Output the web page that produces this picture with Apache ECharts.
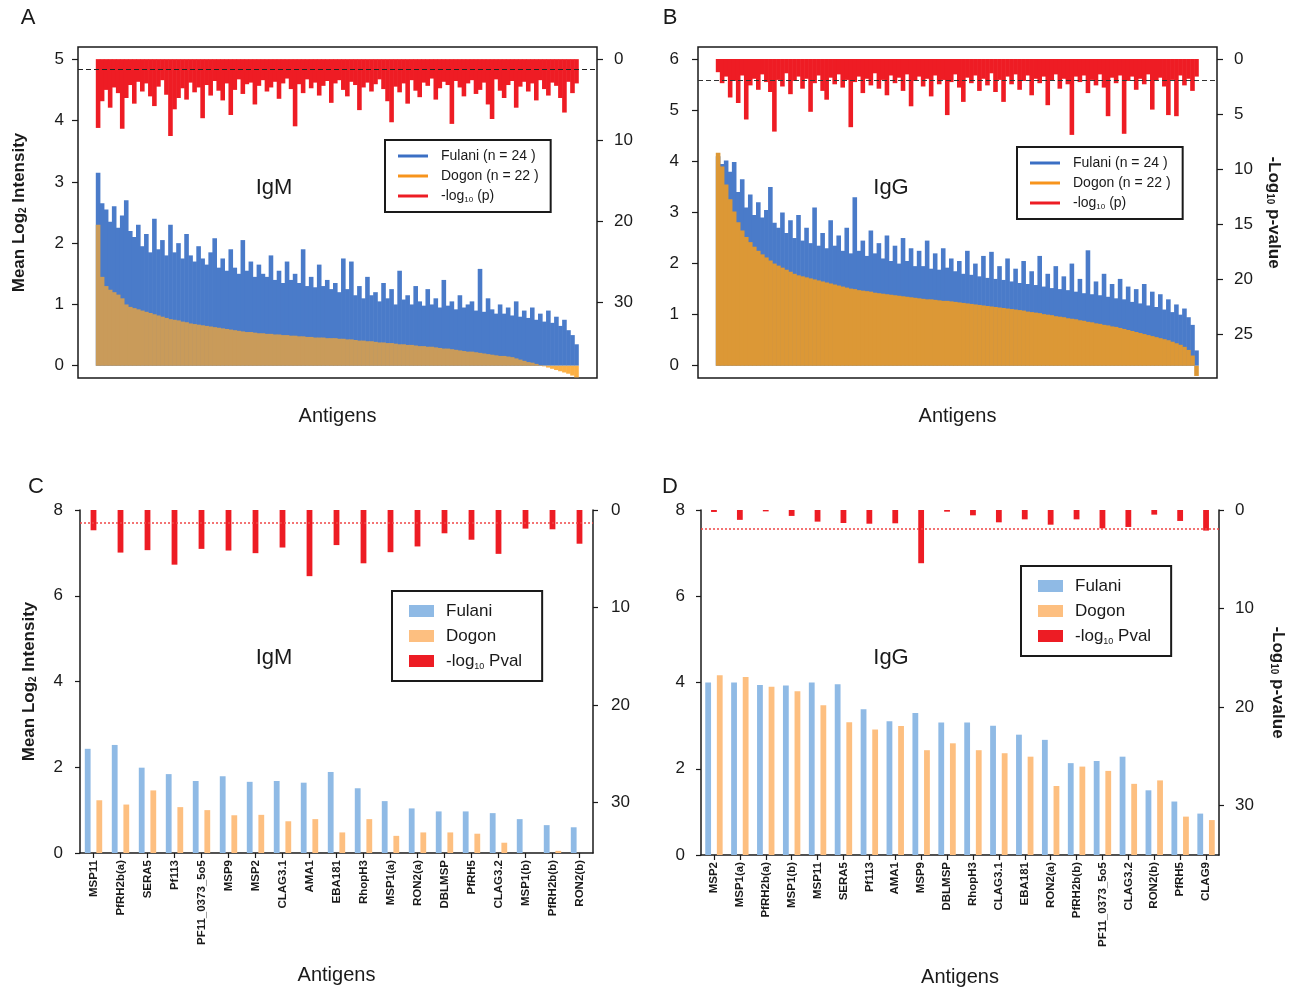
<!DOCTYPE html>
<html>
<head>
<meta charset="utf-8">
<script src="https://cdn.jsdelivr.net/npm/echarts@6.0.0/dist/echarts.min.js"></script>
<style>
  html, body { margin: 0; padding: 0; background: #fff; }
  #main { width: 1295px; height: 991px; }
</style>
</head>
<body>
<div id="main"></div>
<script>
// ---- panel A (IgM, all antigens, sorted by Dogon mean) ----
const fulaniA = [
  3.15, 2.65, 2.55, 2.35, 2.60, 2.25, 2.45, 2.70, 2.20, 2.10,
  2.30, 1.95, 2.15, 1.85, 2.40, 1.90, 2.05, 1.80, 2.30, 1.85,
  2.00, 1.75, 2.15, 1.80, 1.70, 1.95, 1.75, 1.65, 1.85, 2.08,
  1.60, 1.75, 1.55, 1.90, 1.60, 1.50, 2.05, 1.55, 1.70, 1.45,
  1.65, 1.50, 1.45, 1.80, 1.40, 1.55, 1.35, 1.70, 1.40, 1.50,
  1.35, 1.90, 1.30, 1.45, 1.28, 1.65, 1.30, 1.40, 1.25, 1.35,
  1.20, 1.75, 1.25, 1.70, 1.15, 1.30, 1.10, 1.45, 1.15, 1.20,
  1.05, 1.35, 1.10, 1.25, 1.00, 1.55, 1.08, 1.15, 1.00, 1.30,
  1.05, 0.98, 1.25, 1.00, 1.10, 0.95, 1.40, 0.98, 1.05, 0.92,
  1.15, 0.95, 1.00, 1.05, 0.90, 1.58, 0.88, 1.10, 0.92, 0.85,
  1.00, 0.85, 0.95, 0.82, 1.05, 0.80, 0.90, 0.78, 0.95, 0.75,
  0.85, 0.72, 0.90, 0.70, 0.80, 0.65, 0.75, 0.58, 0.50, 0.35
];
const dogonA = [
  2.30, 1.45, 1.30, 1.24, 1.20, 1.16, 1.10, 1.00, 0.96, 0.94,
  0.92, 0.90, 0.88, 0.86, 0.84, 0.82, 0.80, 0.78, 0.76, 0.75,
  0.74, 0.72, 0.71, 0.69, 0.68, 0.67, 0.66, 0.65, 0.64, 0.63,
  0.62, 0.61, 0.60, 0.59, 0.58, 0.57, 0.56, 0.55, 0.55, 0.54,
  0.53, 0.53, 0.52, 0.52, 0.51, 0.51, 0.50, 0.50, 0.49, 0.49,
  0.48, 0.48, 0.47, 0.47, 0.46, 0.46, 0.46, 0.45, 0.45, 0.45,
  0.44, 0.44, 0.43, 0.43, 0.42, 0.41, 0.41, 0.40, 0.40, 0.39,
  0.38, 0.38, 0.37, 0.37, 0.36, 0.35, 0.35, 0.34, 0.34, 0.33,
  0.32, 0.32, 0.31, 0.31, 0.30, 0.29, 0.28, 0.28, 0.27, 0.26,
  0.25, 0.24, 0.23, 0.23, 0.22, 0.21, 0.20, 0.19, 0.18, 0.17,
  0.16, 0.16, 0.15, 0.14, 0.12, 0.10, 0.08, 0.06, 0.05, 0.03,
  0.01, -0.01, -0.03, -0.05, -0.07, -0.09, -0.11, -0.13, -0.16, -0.19
];
const pvalA = [
  8.5, 5.2, 3.8, 6.0, 3.5, 4.2, 8.6, 4.8, 3.2, 5.5,
  2.8, 4.0, 3.0, 4.6, 5.8, 3.4, 2.6, 4.4, 9.5, 6.2,
  4.8, 3.6, 5.0, 2.9, 4.1, 3.5, 7.3, 3.2, 4.5, 2.7,
  3.9, 5.1, 3.0, 6.9, 3.8, 2.5, 4.3, 3.1, 2.9, 5.6,
  3.3, 2.6, 4.0, 3.5, 2.8, 4.9, 3.0, 2.4, 3.7, 8.3,
  3.1, 4.2, 2.5, 3.6, 2.9, 4.5, 3.3, 2.7, 5.4, 3.0,
  2.6, 3.8, 4.6, 2.8, 3.2, 6.3, 3.5, 2.9, 4.0, 3.1,
  2.5, 3.7, 5.2, 7.8, 3.4, 4.1, 3.0, 5.5, 2.6, 3.9,
  4.7, 2.9, 3.3, 2.4, 5.0, 3.6, 2.8, 3.2, 8.0, 2.7,
  3.5, 4.6, 3.0, 2.6, 4.3, 3.8, 2.9, 5.6, 7.4, 2.5,
  3.9, 4.8, 3.2, 2.7, 6.0, 3.4, 2.8, 4.0, 3.0, 5.1,
  2.6, 3.7, 4.5, 2.9, 3.3, 4.8, 6.6, 2.8, 4.2, 3.0
];

// ---- panel B (IgG, all antigens) ----
const fulaniB = [
  4.10, 3.95, 4.02, 3.80, 3.99, 3.40, 3.65, 3.10, 3.35, 2.95,
  3.20, 2.90, 3.05, 3.50, 2.80, 2.70, 3.00, 2.60, 2.85, 2.50,
  2.95, 2.45, 2.70, 2.40, 3.10, 2.35, 2.60, 2.30, 2.85, 2.35,
  2.55, 2.25, 2.70, 2.20, 3.30, 2.25, 2.45, 2.15, 2.65, 2.20,
  2.40, 2.10, 2.55, 2.05, 2.35, 2.00, 2.50, 2.05, 2.30, 1.95,
  2.25, 1.95, 2.45, 1.90, 2.20, 1.88, 2.30, 1.92, 2.10, 1.85,
  2.05, 1.80, 2.25, 1.78, 2.00, 1.75, 2.15, 1.72, 2.23, 1.70,
  1.95, 1.68, 2.10, 1.65, 1.90, 1.62, 2.05, 1.60, 1.85, 1.58,
  2.15, 1.55, 1.80, 1.52, 1.95, 1.50, 1.75, 1.48, 2.00, 1.45,
  1.70, 1.42, 2.26, 1.40, 1.65, 1.38, 1.80, 1.35, 1.60, 1.32,
  1.70, 1.30, 1.55, 1.25, 1.50, 1.22, 1.60, 1.18, 1.45, 1.15,
  1.40, 1.10, 1.30, 1.05, 1.20, 1.00, 1.12, 0.95, 0.80, 0.30
];
const dogonB = [
  4.17, 3.90, 3.55, 3.26, 3.02, 2.81, 2.65, 2.52, 2.42, 2.33,
  2.25, 2.18, 2.12, 2.06, 2.00, 1.96, 1.92, 1.88, 1.84, 1.80,
  1.77, 1.75, 1.73, 1.71, 1.69, 1.67, 1.65, 1.63, 1.61, 1.59,
  1.57, 1.55, 1.53, 1.51, 1.50, 1.48, 1.47, 1.46, 1.45, 1.43,
  1.42, 1.41, 1.40, 1.39, 1.38, 1.37, 1.36, 1.35, 1.34, 1.33,
  1.32, 1.31, 1.30, 1.30, 1.29, 1.28, 1.27, 1.27, 1.26, 1.25,
  1.24, 1.23, 1.22, 1.21, 1.20, 1.19, 1.18, 1.17, 1.16, 1.15,
  1.14, 1.13, 1.12, 1.11, 1.10, 1.09, 1.08, 1.06, 1.05, 1.04,
  1.03, 1.01, 1.00, 0.99, 0.97, 0.96, 0.95, 0.93, 0.92, 0.91,
  0.89, 0.88, 0.86, 0.85, 0.83, 0.82, 0.80, 0.79, 0.77, 0.76,
  0.74, 0.72, 0.70, 0.68, 0.66, 0.64, 0.62, 0.60, 0.58, 0.56,
  0.54, 0.52, 0.50, 0.47, 0.44, 0.41, 0.37, 0.31, 0.20, -0.20
];
const pvalB = [
  1.2, 2.2, 1.6, 3.5, 2.0, 4.0, 1.5, 5.5, 2.4, 1.8,
  2.8, 1.4, 2.1, 3.0, 6.6, 1.9, 2.5, 1.3, 3.2, 2.0,
  1.6, 2.7, 1.8, 4.8, 2.2, 1.5, 2.9, 3.7, 1.7, 2.3,
  1.4, 2.6, 1.9, 6.2, 2.1, 1.6, 3.1, 1.8, 2.4, 1.3,
  2.7, 1.9, 3.3, 1.5, 2.2, 1.7, 2.9, 1.4, 4.3, 2.0,
  1.6, 2.5, 1.8, 3.4, 1.5, 2.3, 1.9, 5.1, 2.1, 1.4,
  2.6, 3.9, 1.7, 2.2, 1.5, 2.9, 1.8, 2.4, 1.3, 3.0,
  1.9, 3.9, 1.6, 2.3, 1.4, 2.8, 2.0, 1.5, 3.3, 1.8,
  2.2, 1.6, 4.2, 2.0, 1.4, 2.7, 1.8, 2.3, 6.9, 1.6,
  2.1, 1.5, 3.1, 1.9, 2.4, 1.4, 2.6, 5.2, 1.7, 2.2,
  1.5, 6.8, 2.0, 1.6, 2.8, 1.8, 2.3, 1.4, 4.6, 2.0,
  1.7, 2.5, 5.1, 1.9, 5.2, 1.5, 2.4, 1.8, 2.9, 1.6
];

// ---- panel C (IgM, selected antigens) ----
const catC = ['MSP11', 'PfRH2b(a)', 'SERA5', 'Pf113', 'PF11_0373_5o5', 'MSP9', 'MSP2', 'CLAG3.1', 'AMA1',
  'EBA181', 'RhopH3', 'MSP1(a)', 'RON2(a)', 'DBLMSP', 'PfRH5', 'CLAG3.2', 'MSP1(b)', 'PfRH2b(b)', 'RON2(b)'];
const fulaniC = [2.43, 2.52, 1.99, 1.84, 1.68, 1.79, 1.66, 1.68, 1.64, 1.89, 1.51, 1.21, 1.04, 0.97, 0.97, 0.93, 0.79, 0.65, 0.60];
const dogonC = [1.23, 1.13, 1.46, 1.07, 1.00, 0.88, 0.89, 0.74, 0.79, 0.48, 0.79, 0.40, 0.48, 0.48, 0.45, 0.24, 0.00, 0.05, 0.00];
const pvalC = [2.08, 4.37, 4.12, 5.61, 3.99, 4.16, 4.43, 3.85, 6.79, 3.60, 5.47, 4.33, 3.74, 2.39, 3.05, 4.50, 1.91, 1.98, 3.46];

// ---- panel D (IgG, selected antigens) ----
const catD = ['MSP2', 'MSP1(a)', 'PfRH2b(a)', 'MSP1(b)', 'MSP11', 'SERA5', 'Pf113', 'AMA1', 'MSP9', 'DBLMSP',
  'RhopH3', 'CLAG3.1', 'EBA181', 'RON2(a)', 'PfRH2b(b)', 'PF11_0373_5o5', 'CLAG3.2', 'RON2(b)', 'PfRH5', 'CLAG9'];
const fulaniD = [4.00, 4.00, 3.94, 3.93, 4.00, 3.96, 3.38, 3.10, 3.29, 3.07, 3.07, 3.00, 2.79, 2.67, 2.13, 2.18, 2.28, 1.50, 1.24, 0.96];
const dogonD = [4.17, 4.13, 3.90, 3.80, 3.47, 3.08, 2.91, 2.99, 2.43, 2.59, 2.43, 2.36, 2.28, 1.60, 2.05, 1.95, 1.65, 1.73, 0.89, 0.81];
const pvalD = [0.20, 1.00, 0.14, 0.60, 1.18, 1.32, 1.39, 1.35, 5.40, 0.17, 0.54, 1.25, 0.95, 1.49, 0.95, 1.86, 1.72, 0.47, 1.11, 2.09];

// tick labels
const ticksA = [0, 1, 2, 3, 4, 5];
const ticksAp = [0, 10, 20, 30];
const ticksB = [0, 1, 2, 3, 4, 5, 6];
const ticksBp = [0, 5, 10, 15, 20, 25];
const ticksCD = [0, 2, 4, 6, 8];
const ticksCDp = [0, 10, 20, 30];

const FONT = '"Liberation Sans", Arial, Helvetica, sans-serif';
const INK = '#1a1a1a';
const FUL_AB = 'Fulani (n = 24 )', DOG_AB = 'Dogon (n = 22 )', P_AB = '-log10 (p)';
const FUL_CD = 'Fulani', DOG_CD = 'Dogon', P_CD = '-log10 Pval';

const pairs = arr => arr.map((v, i) => [i, v]);

const chart = echarts.init(document.getElementById('main'));

function yAxis(g, pos, min, max, ticks, o) {
  o = o || {};
  return {
    type: 'value', gridIndex: g, position: pos, min: min, max: max, inverse: !!o.inverse,
    splitLine: { show: false },
    axisLine: { show: !!o.line, onZero: false, lineStyle: { color: INK, width: 1.5 } },
    axisTick: { show: true, length: o.tick || 6, customValues: ticks, lineStyle: { color: INK, width: 1.2 } },
    axisLabel: { customValues: ticks, fontSize: 17, color: INK, fontFamily: FONT, margin: o.margin || 14 },
    name: o.name || '', nameLocation: 'middle', nameGap: o.gap || 40, nameRotate: o.rot || 0,
    nameTextStyle: {
      fontSize: 17, fontWeight: 'bold', color: INK, fontFamily: FONT,
      rich: { s: { fontSize: 10, fontWeight: 'bold', fontFamily: FONT, color: INK, verticalAlign: 'bottom', lineHeight: 11 } }
    }
  };
}

function xValAxis(g, showName) {
  return {
    type: 'value', gridIndex: g, min: -5, max: 124.1, show: true,
    axisLine: { show: false }, axisTick: { show: false }, axisLabel: { show: false }, splitLine: { show: false },
    name: showName ? 'Antigens' : '', nameLocation: 'middle', nameGap: 28,
    nameTextStyle: { fontSize: 20, color: INK, fontFamily: FONT }
  };
}

function xCatAxis(g, cats) {
  return {
    type: 'category', gridIndex: g, data: cats,
    axisLine: { show: true, onZero: false, lineStyle: { color: INK, width: 1.5 } },
    axisTick: { show: true, alignWithLabel: true, length: 5, lineStyle: { color: INK, width: 1.2 } },
    axisLabel: { interval: 0, rotate: 90, fontSize: 11.5, fontWeight: 'bold', color: INK, fontFamily: FONT, margin: 7 },
    splitLine: { show: false },
    name: 'Antigens', nameLocation: 'middle', nameGap: 112,
    nameTextStyle: { fontSize: 20, color: INK, fontFamily: FONT }
  };
}

function legendFmt(name) {
  if (name === P_AB) return '{g| }-log{s|10} (p)';
  if (name === P_CD) return '{g| }-log{s|10} Pval';
  return '{g| }' + name;
}

function legend(left, top, big, items) {
  return {
    orient: 'vertical', left: left, top: top, selectedMode: false, icon: 'rect',
    borderColor: INK, borderWidth: 2, borderRadius: 0,
    padding: big ? [10, 20, 10, 17] : [8, 12, 8, 13],
    itemGap: big ? 5 : 4, itemWidth: big ? 25 : 30, itemHeight: big ? 12 : 3,
    data: items, formatter: legendFmt,
    textStyle: {
      fontSize: big ? 17 : 14, color: INK, fontFamily: FONT, lineHeight: big ? 20 : 16,
      rich: {
        g: { width: big ? 7 : 8 },
        s: { fontSize: big ? 9 : 8, fontFamily: FONT, color: INK, verticalAlign: 'bottom', lineHeight: big ? 13 : 10 }
      }
    }
  };
}

const dashLine = (v, color, type, width) => ({
  silent: true, symbol: ['none', 'none'], label: { show: false },
  lineStyle: { color: color, type: type, width: width }, data: [{ yAxis: v }]
});

function lineBars(name, xi, yi, data, color, opacity, extra) {
  return Object.assign({
    name: name, type: 'bar', xAxisIndex: xi, yAxisIndex: yi, data: pairs(data),
    barWidth: 4.6, barGap: '-100%', silent: true, emphasis: { disabled: true },
    itemStyle: { color: color, opacity: opacity }
  }, extra || {});
}

function groupBars(name, xi, yi, data, color, extra) {
  return Object.assign({
    name: name, type: 'bar', xAxisIndex: xi, yAxisIndex: yi, data: data,
    barWidth: 5.8, barGap: '0%', silent: true, emphasis: { disabled: true },
    itemStyle: { color: color }
  }, extra || {});
}

const textEl = (x, y, text, size) => ({
  type: 'text', x: x, y: y, silent: true,
  style: { text: text, fontSize: size, fontFamily: FONT, fill: INK, align: 'center', verticalAlign: 'middle' }
});

const option = {
  animation: false,
  backgroundColor: '#fff',
  grid: [
    { left: 78, top: 47, width: 519, height: 331, show: true, borderColor: INK, borderWidth: 1.5, backgroundColor: 'transparent' },
    { left: 698, top: 47, width: 519, height: 331, show: true, borderColor: INK, borderWidth: 1.5, backgroundColor: 'transparent' },
    { left: 80, top: 510, width: 513, height: 343 },
    { left: 701, top: 510, width: 518, height: 345 }
  ],
  xAxis: [
    xValAxis(0, true),
    Object.assign(xValAxis(0, false), { show: false }),
    xValAxis(1, true),
    Object.assign(xValAxis(1, false), { show: false }),
    xCatAxis(2, catC),
    xCatAxis(3, catD)
  ],
  yAxis: [
    yAxis(0, 'left', -0.2, 5.2, ticksA, { name: 'Mean Log{s|2} Intensity', rot: 90, gap: 50 }),
    yAxis(0, 'right', -1.5, 39.4, ticksAp, { inverse: true, margin: 17 }),
    yAxis(1, 'left', -0.24, 6.24, ticksB, { margin: 19 }),
    yAxis(1, 'right', -1.09, 29, ticksBp, { inverse: true, margin: 17, name: '-Log{s|10} p-value', rot: -90, gap: 48 }),
    yAxis(2, 'left', 0, 8, ticksCD, { line: true, tick: 5, margin: 17, name: 'Mean Log{s|2} Intensity', rot: 90, gap: 42 }),
    yAxis(2, 'right', 0, 35.2, ticksCDp, { line: true, tick: 5, inverse: true, margin: 18 }),
    yAxis(3, 'left', 0, 8, ticksCD, { line: true, tick: 5, margin: 16 }),
    yAxis(3, 'right', 0, 35, ticksCDp, { line: true, tick: 5, inverse: true, margin: 16, name: '-Log{s|10} p-value', rot: -90, gap: 50 })
  ],
  // Dogon IgM values below zero show as plain orange (no blue behind them)
  visualMap: [{
    type: 'piecewise', show: false, seriesIndex: 1, dimension: 1,
    pieces: [{ lt: 0, color: '#fbb044' }, { gte: 0, color: '#c99b5a' }]
  }],
  legend: [
    legend(385, 140, false, [
      { name: FUL_AB, itemStyle: { color: '#3b6fc4' } },
      { name: DOG_AB, itemStyle: { color: '#f7941d' } },
      { name: P_AB, itemStyle: { color: '#ed1c24' } }
    ]),
    legend(1017, 147, false, [
      { name: FUL_AB, itemStyle: { color: '#3b6fc4' } },
      { name: DOG_AB, itemStyle: { color: '#f7941d' } },
      { name: P_AB, itemStyle: { color: '#ed1c24' } }
    ]),
    legend(392, 591, true, [
      { name: FUL_CD, itemStyle: { color: '#8fbae5' } },
      { name: DOG_CD, itemStyle: { color: '#fdbf80' } },
      { name: P_CD, itemStyle: { color: '#ed1c24' } }
    ]),
    legend(1021, 566, true, [
      { name: FUL_CD, itemStyle: { color: '#8fbae5' } },
      { name: DOG_CD, itemStyle: { color: '#fdbf80' } },
      { name: P_CD, itemStyle: { color: '#ed1c24' } }
    ])
  ],
  graphic: [
    textEl(28, 18, 'A', 22), textEl(670, 18, 'B', 22), textEl(36, 487, 'C', 22), textEl(670, 487, 'D', 22),
    textEl(274, 188, 'IgM', 22), textEl(891, 188, 'IgG', 22), textEl(274, 658, 'IgM', 22), textEl(891, 658, 'IgG', 22)
  ],
  series: [
    lineBars(FUL_AB, 0, 0, fulaniA, '#4a7bc9', 1),
    lineBars(DOG_AB, 0, 0, dogonA, '#c99b5a', 1),
    lineBars(P_AB, 1, 1, pvalA, '#ee1c24', 1, { markLine: dashLine(1.3, '#222', [5, 3], 1) }),

    lineBars(FUL_AB, 2, 2, fulaniB, '#4a7bc9', 1),
    lineBars(DOG_AB, 2, 2, dogonB, '#dc9836', 1),
    lineBars(P_AB, 3, 3, pvalB, '#ee1c24', 1, { markLine: dashLine(1.97, '#333', [5, 3], 1) }),

    groupBars(FUL_CD, 4, 4, fulaniC, '#8fbae5'),
    groupBars(P_CD, 4, 5, pvalC, '#ed1c24', { markLine: dashLine(1.3, '#f04545', [2, 2], 1.5) }),
    groupBars(DOG_CD, 4, 4, dogonC, '#fdbf80'),

    groupBars(FUL_CD, 5, 6, fulaniD, '#8fbae5'),
    groupBars(P_CD, 5, 7, pvalD, '#ed1c24', { markLine: dashLine(1.93, '#f04545', [2, 2], 1.5) }),
    groupBars(DOG_CD, 5, 6, dogonD, '#fdbf80')
  ]
};

chart.setOption(option);
</script>
</body>
</html>
